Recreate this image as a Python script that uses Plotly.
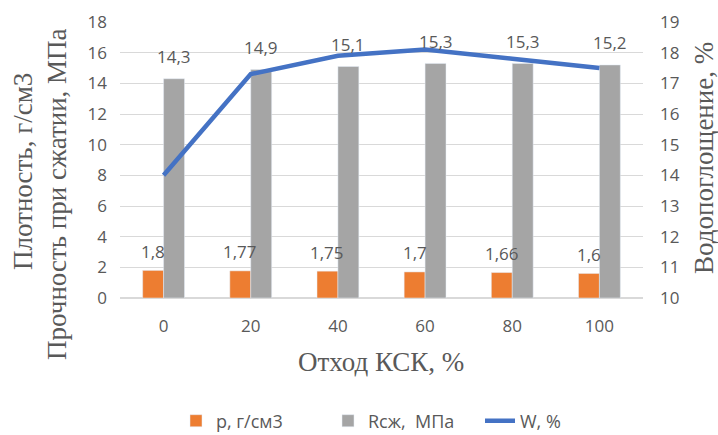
import plotly.graph_objects as go

categories = ["0", "20", "40", "60", "80", "100"]
density = [1.8, 1.77, 1.75, 1.7, 1.66, 1.6]
strength = [14.3, 14.9, 15.1, 15.3, 15.3, 15.2]
water = [14.0, 17.3, 17.9, 18.1, 17.8, 17.5]

def fmt(v):
    return str(v).replace(".", ",")

TXT = "#595959"
SANS = "Open Sans, Liberation Sans, sans-serif"
SERIF = "Liberation Serif, Times New Roman, serif"
FS = 17
TS = 27

W, H = 718, 435
ML, MR, MT, MB = 120, 75, 22, 137
PW, PH = W - ML - MR, H - MT - MB
BAR_SHIFT = PW / len(categories) * (1 - 0.52) / 4

def px(x):
    return (x - ML) / PW

def py(y):
    return (H - MB - y) / PH

fig = go.Figure()
fig.add_trace(go.Bar(x=categories, y=density, name="р, г/см3", marker_color="#ED7D31"))
fig.add_trace(go.Bar(x=categories, y=strength, name="Rсж,  МПа", marker_color="#A5A5A5"))
fig.add_trace(go.Scatter(
    x=categories, y=water, name="W, %", yaxis="y2",
    mode="lines", line=dict(color="#4472C4", width=4.5),
))

annotations = []
for i, v in enumerate(density):
    annotations.append(dict(text=fmt(v), x=i, y=v, xref="x", yref="y", showarrow=False,
                            xshift=-BAR_SHIFT, yshift=19, yanchor="middle",
                            font=dict(family=SANS, size=FS, color=TXT)))
for i, v in enumerate(strength):
    annotations.append(dict(text=fmt(v), x=i, y=v, xref="x", yref="y", showarrow=False,
                            xshift=BAR_SHIFT, yshift=22, yanchor="middle",
                            font=dict(family=SANS, size=FS, color=TXT)))

annotations += [
    dict(text="Плотность, г/см3", x=px(23), y=py(172), xref="paper", yref="paper",
         textangle=-90, showarrow=False, xanchor="center", yanchor="middle",
         font=dict(family=SERIF, size=TS, color=TXT)),
    dict(text="Прочность при сжатии, МПа", x=px(57), y=py(194), xref="paper", yref="paper",
         textangle=-90, showarrow=False, xanchor="center", yanchor="middle",
         font=dict(family=SERIF, size=TS, color=TXT)),
    dict(text="Водопоглощение, %", x=px(704), y=py(158), xref="paper", yref="paper",
         textangle=-90, showarrow=False, xanchor="center", yanchor="middle",
         font=dict(family=SERIF, size=TS, color=TXT)),
    dict(text="Отход КСК, %", x=px(381), y=py(362), xref="paper", yref="paper",
         showarrow=False, xanchor="center", yanchor="middle",
         font=dict(family=SERIF, size=TS, color=TXT)),
]

fig.update_layout(
    width=W, height=H,
    margin=dict(l=ML, r=MR, t=MT, b=MB, autoexpand=False),
    paper_bgcolor="white", plot_bgcolor="white",
    barmode="group", bargap=0.52, bargroupgap=0,
    font=dict(family=SANS, color=TXT, size=FS),
    xaxis=dict(
        type="category", categoryorder="array", categoryarray=categories,
        range=[-0.5, len(categories) - 0.5], autorange=False,
        showgrid=False, showline=False, ticks="",
        tickfont=dict(size=FS, color=TXT, family=SANS), ticklabelstandoff=16,
    ),
    yaxis=dict(
        range=[0, 18], dtick=2, showgrid=True, gridcolor="#D9D9D9", gridwidth=1.3,
        zeroline=True, zerolinecolor="#D9D9D9", zerolinewidth=1.5,
        showline=False, ticks="", ticklabelstandoff=12,
        tickfont=dict(size=FS, color=TXT, family=SANS),
    ),
    yaxis2=dict(
        range=[10, 19], dtick=1, overlaying="y", side="right",
        showgrid=False, zeroline=False, showline=False, ticks="", ticklabelstandoff=16,
        tickfont=dict(size=FS, color=TXT, family=SANS),
    ),
    legend=dict(
        orientation="h", x=px(176), xanchor="left", y=py(421), yanchor="middle",
        entrywidth=107, entrywidthmode="pixels",
        font=dict(size=18, color=TXT, family=SANS), traceorder="normal",
        bgcolor="rgba(0,0,0,0)",
    ),
    annotations=annotations,
    showlegend=True,
)

fig.write_html(
    "out.html",
    config={"displayModeBar": False},
    post_script="document.body.style.margin='0';document.body.style.padding='0';"
                "document.documentElement.style.overflow='hidden';",
)
